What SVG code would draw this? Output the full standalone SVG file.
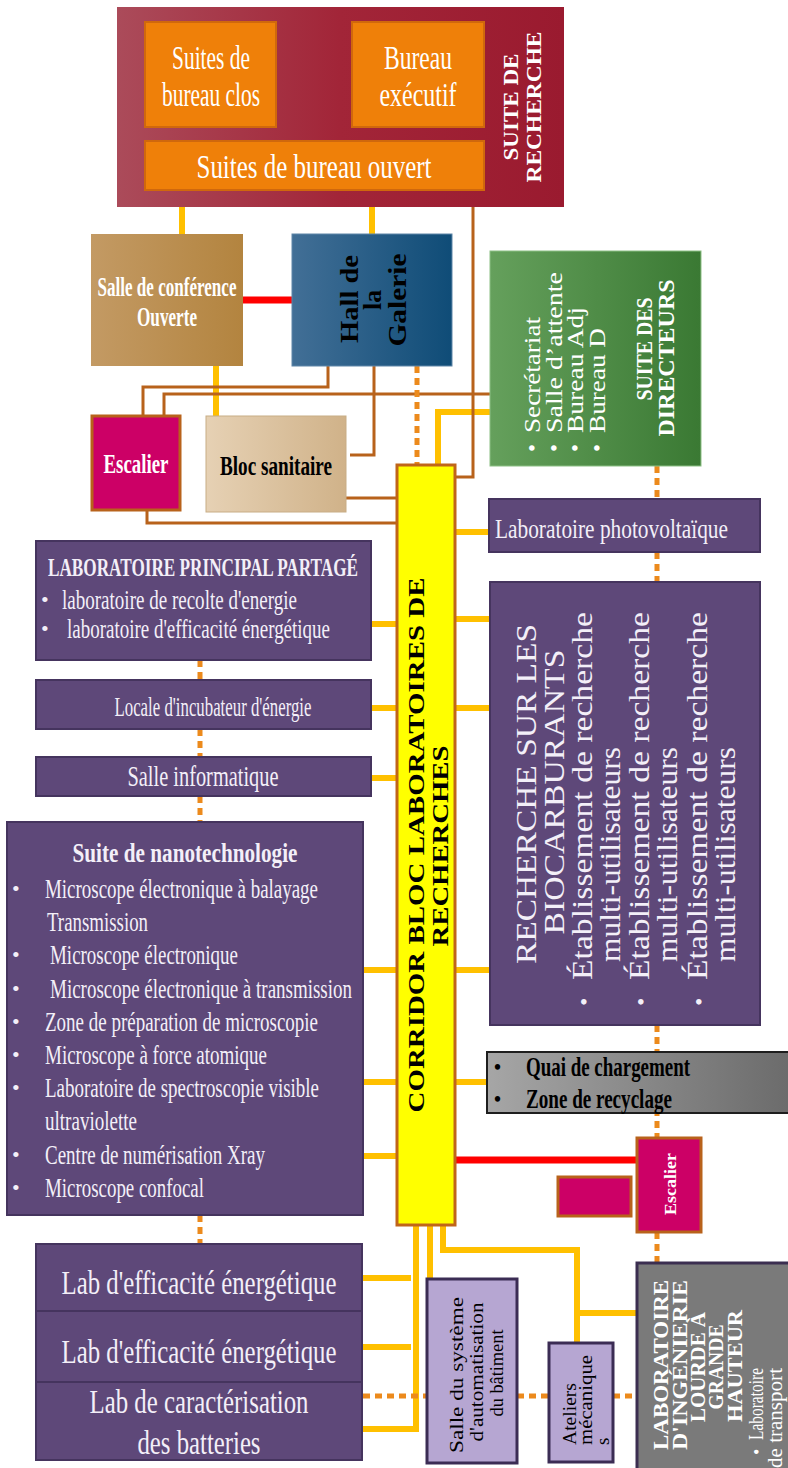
<svg xmlns="http://www.w3.org/2000/svg" width="788" height="1468" viewBox="0 0 788 1468">
  <defs>
    <linearGradient id="gMaroon" x1="0" y1="0" x2="1" y2="0">
      <stop offset="0" stop-color="#ab4b5a"/>
      <stop offset="0.5" stop-color="#a22538"/>
      <stop offset="1" stop-color="#9a1a2f"/>
    </linearGradient>
    <linearGradient id="gTan" x1="0" y1="0" x2="1" y2="0">
      <stop offset="0" stop-color="#c39a64"/>
      <stop offset="1" stop-color="#b3843f"/>
    </linearGradient>
    <linearGradient id="gBlue" x1="0" y1="0" x2="1" y2="0">
      <stop offset="0" stop-color="#426f96"/>
      <stop offset="1" stop-color="#0f4c77"/>
    </linearGradient>
    <linearGradient id="gSand" x1="0" y1="0" x2="1" y2="0">
      <stop offset="0" stop-color="#e6d1b4"/>
      <stop offset="1" stop-color="#d0b289"/>
    </linearGradient>
    <linearGradient id="gGreen" x1="0" y1="0" x2="1" y2="0">
      <stop offset="0" stop-color="#65a05c"/>
      <stop offset="1" stop-color="#3a7933"/>
    </linearGradient>
    <linearGradient id="gGray" x1="0" y1="0" x2="1" y2="0">
      <stop offset="0" stop-color="#a6a6a6"/>
      <stop offset="1" stop-color="#6a6a6a"/>
    </linearGradient>
    <style>
      .t { font-family: "Liberation Serif", "Times New Roman", serif; }
      .b { font-weight: bold; }
      .w { fill: #ffffff; }
      .lw { fill: #f3eff8; }
      .k { fill: #000000; }
      .y { stroke: #ffc000; stroke-width: 6; fill: none; }
      .br { stroke: #b8621b; stroke-width: 3; fill: none; }
      .dot { stroke: #ec8a1c; stroke-width: 5; stroke-dasharray: 7 5; fill: none; }
      .red { stroke: #ff0000; stroke-width: 7; fill: none; }
      .purple { fill: #5e4879; stroke: #45345e; stroke-width: 2; }
      .orange { fill: #ef8009; stroke: #d0680c; stroke-width: 2; }
      .mag { fill: #cc0066; stroke: #b8621b; stroke-width: 3; }
      .lilac { fill: #b6a6d2; stroke: #3b2c54; stroke-width: 3; }
    </style>
  </defs>

  <rect width="788" height="1468" fill="#ffffff"/>

  <!-- connectors -->
  <g id="connectors">
    <!-- yellow corridor links -->
    <line class="y" x1="182" y1="207" x2="182" y2="234"/>
    <line class="y" x1="372" y1="207" x2="372" y2="234"/>
    <line class="y" x1="216" y1="366" x2="216" y2="416"/>
    <polyline class="y" points="490,412 438,412 438,465"/>
    <line class="y" x1="455" y1="532" x2="490" y2="532"/>
    <line class="y" x1="455" y1="619" x2="490" y2="619"/>
    <line class="y" x1="455" y1="708" x2="490" y2="708"/>
    <line class="y" x1="455" y1="970" x2="490" y2="970"/>
    <line class="y" x1="455" y1="1082" x2="487" y2="1082"/>
    <line class="y" x1="371" y1="624" x2="397" y2="624"/>
    <line class="y" x1="371" y1="708" x2="397" y2="708"/>
    <line class="y" x1="371" y1="778" x2="397" y2="778"/>
    <line class="y" x1="363" y1="970" x2="397" y2="970"/>
    <line class="y" x1="363" y1="1082" x2="397" y2="1082"/>
    <line class="y" x1="363" y1="1156" x2="397" y2="1156"/>
    <line class="y" x1="363" y1="1278" x2="411" y2="1278"/>
    <line class="y" x1="363" y1="1347" x2="411" y2="1347"/>
    <polyline class="y" points="416,1225 416,1429 363,1429"/>
    <line class="y" x1="430" y1="1225" x2="430" y2="1279"/>
    <polyline class="y" points="443,1225 443,1250 577,1250 577,1343"/>
    <line class="y" x1="577" y1="1313" x2="637" y2="1313"/>

    <!-- brown service lines -->
    <polyline class="br" points="473,207 473,477 455,477"/>
    <polyline class="br" points="328,366 328,387 143,387 143,416"/>
    <polyline class="br" points="164,416 164,394 490,394"/>
    <polyline class="br" points="374,366 374,455 350,455"/>
    <line class="br" x1="346" y1="498" x2="397" y2="498"/>
    <polyline class="br" points="147,510 147,523 397,523"/>

    <!-- red links -->
    <line class="red" x1="243" y1="300" x2="292" y2="300"/>
    <line class="red" x1="455" y1="1160" x2="637" y2="1160"/>

    <!-- dotted links -->
    <line class="dot" x1="417" y1="366" x2="417" y2="465"/>
    <line class="dot" x1="657" y1="466" x2="657" y2="499"/>
    <line class="dot" x1="657" y1="552" x2="657" y2="582"/>
    <line class="dot" x1="657" y1="1025" x2="657" y2="1138"/>
    <line class="dot" x1="657" y1="1232" x2="657" y2="1263"/>
    <line class="dot" x1="200" y1="660" x2="200" y2="680"/>
    <line class="dot" x1="200" y1="729" x2="200" y2="757"/>
    <line class="dot" x1="200" y1="796" x2="200" y2="822"/>
    <line class="dot" x1="200" y1="1215" x2="200" y2="1244"/>
    <line class="dot" x1="363" y1="1396" x2="427" y2="1396"/>
    <line class="dot" x1="517" y1="1396" x2="549" y2="1396"/>
    <line class="dot" x1="613" y1="1396" x2="637" y2="1396"/>
  </g>

  <!-- research suite with its offices -->
  <g id="suite-recherche">
    <rect x="117" y="7" width="447" height="200" fill="url(#gMaroon)"/>
    <rect class="orange" x="145" y="22" width="131" height="105"/>
    <rect class="orange" x="352" y="22" width="132" height="105"/>
    <rect class="orange" x="145" y="141" width="339" height="49"/>
    <g class="t w" font-size="33" text-anchor="middle">
      <text x="211" y="69" textLength="78" lengthAdjust="spacingAndGlyphs">Suites de</text>
      <text x="211" y="106" textLength="98" lengthAdjust="spacingAndGlyphs">bureau clos</text>
      <text x="418" y="69" textLength="68" lengthAdjust="spacingAndGlyphs">Bureau</text>
      <text x="418" y="106" textLength="77" lengthAdjust="spacingAndGlyphs">exécutif</text>
      <text x="314" y="178" textLength="235" lengthAdjust="spacingAndGlyphs">Suites de bureau ouvert</text>
    </g>
    <g class="t b w" font-size="21" text-anchor="middle">
      <text transform="translate(518,107) rotate(-90)" textLength="107" lengthAdjust="spacingAndGlyphs">SUITE DE</text>
      <text transform="translate(541,107) rotate(-90)" textLength="151" lengthAdjust="spacingAndGlyphs">RECHERCHE</text>
    </g>
  </g>

  <g id="salle-conference">
    <rect x="91" y="234" width="152" height="132" fill="url(#gTan)"/>
    <g class="t b w" font-size="27" text-anchor="middle">
      <text x="167" y="296" textLength="139" lengthAdjust="spacingAndGlyphs">Salle de conférence</text>
      <text x="167" y="326" textLength="60" lengthAdjust="spacingAndGlyphs">Ouverte</text>
    </g>
  </g>

  <g id="hall-galerie">
    <rect x="292" y="234" width="160" height="132" fill="url(#gBlue)" stroke="#5f86a8" stroke-width="1"/>
    <g class="t b k" font-size="25" text-anchor="middle">
      <text transform="translate(358,299) rotate(-90)" textLength="88" lengthAdjust="spacingAndGlyphs">Hall de</text>
      <text transform="translate(381,300) rotate(-90)" textLength="20" lengthAdjust="spacingAndGlyphs">la</text>
      <text transform="translate(406,300) rotate(-90)" textLength="93" lengthAdjust="spacingAndGlyphs">Galerie</text>
    </g>
  </g>

  <g id="escalier-nord">
    <rect class="mag" x="92" y="416" width="88" height="94"/>
    <text class="t b w" font-size="27" x="136" y="473" text-anchor="middle" textLength="65" lengthAdjust="spacingAndGlyphs">Escalier</text>
  </g>

  <g id="bloc-sanitaire">
    <rect x="206" y="416" width="140" height="96" fill="url(#gSand)" stroke="#c8ad86" stroke-width="1"/>
    <text class="t b k" font-size="27" x="276" y="475" text-anchor="middle" textLength="112" lengthAdjust="spacingAndGlyphs">Bloc sanitaire</text>
  </g>

  <g id="suite-directeurs">
    <rect x="490" y="251" width="211" height="215" fill="url(#gGreen)" stroke="#8cbf84" stroke-width="1"/>
    <g class="t w" font-size="23">
      <text transform="translate(540,452) rotate(-90)">•</text>
      <text transform="translate(540,433) rotate(-90)" textLength="116" lengthAdjust="spacingAndGlyphs">Secrétariat</text>
      <text transform="translate(562,452) rotate(-90)">•</text>
      <text transform="translate(562,433) rotate(-90)" textLength="161" lengthAdjust="spacingAndGlyphs">Salle d’attente</text>
      <text transform="translate(583,452) rotate(-90)">•</text>
      <text transform="translate(583,433) rotate(-90)" textLength="126" lengthAdjust="spacingAndGlyphs">Bureau Adj</text>
      <text transform="translate(605,452) rotate(-90)">•</text>
      <text transform="translate(605,433) rotate(-90)" textLength="105" lengthAdjust="spacingAndGlyphs">Bureau D</text>
    </g>
    <g class="t b w" font-size="23" text-anchor="middle">
      <text transform="translate(652,349) rotate(-90)" textLength="103" lengthAdjust="spacingAndGlyphs">SUITE DES</text>
      <text transform="translate(674,358) rotate(-90)" textLength="157" lengthAdjust="spacingAndGlyphs">DIRECTEURS</text>
    </g>
  </g>

  <g id="corridor">
    <rect x="397" y="465" width="58" height="760" fill="#ffff00" stroke="#c0651a" stroke-width="3"/>
    <g class="t b k" font-size="24" text-anchor="middle">
      <text transform="translate(424,845) rotate(-90)" textLength="535" lengthAdjust="spacingAndGlyphs">CORRIDOR BLOC LABORATOIRES DE</text>
      <text transform="translate(448,846) rotate(-90)" textLength="201" lengthAdjust="spacingAndGlyphs">RECHERCHES</text>
    </g>
  </g>

  <g id="lab-photovoltaique">
    <rect class="purple" x="489" y="499" width="271" height="53"/>
    <text class="t lw" font-size="27" x="495" y="538" textLength="233" lengthAdjust="spacingAndGlyphs">Laboratoire photovoltaïque</text>
  </g>

  <g id="lab-principal">
    <rect class="purple" x="36" y="541" width="335" height="119"/>
    <text class="t b lw" font-size="26" x="203" y="576" text-anchor="middle" textLength="310" lengthAdjust="spacingAndGlyphs">LABORATOIRE PRINCIPAL PARTAGÉ</text>
    <g class="t lw" font-size="27">
      <text x="41" y="607" font-size="22">•</text>
      <text x="62" y="609" textLength="235" lengthAdjust="spacingAndGlyphs">laboratoire de recolte d'energie</text>
      <text x="41" y="636" font-size="22">•</text>
      <text x="67" y="638" textLength="263" lengthAdjust="spacingAndGlyphs">laboratoire d'efficacité énergétique</text>
    </g>
  </g>

  <g id="incubateur">
    <rect class="purple" x="36" y="680" width="335" height="49"/>
    <text class="t lw" font-size="28" x="213" y="716" text-anchor="middle" textLength="197" lengthAdjust="spacingAndGlyphs">Locale d'incubateur d'énergie</text>
  </g>

  <g id="salle-informatique">
    <rect class="purple" x="36" y="757" width="335" height="39"/>
    <text class="t lw" font-size="29" x="203" y="786" text-anchor="middle" textLength="151" lengthAdjust="spacingAndGlyphs">Salle informatique</text>
  </g>

  <g id="nanotechnologie">
    <rect class="purple" x="7" y="822" width="356" height="393"/>
    <text class="t b lw" font-size="27" x="185" y="862" text-anchor="middle" textLength="225" lengthAdjust="spacingAndGlyphs">Suite de nanotechnologie</text>
    <g class="t lw" font-size="22">
      <text x="12" y="896">•</text>
      <text x="12" y="962">•</text>
      <text x="12" y="996">•</text>
      <text x="12" y="1029">•</text>
      <text x="12" y="1062">•</text>
      <text x="12" y="1095">•</text>
      <text x="12" y="1162">•</text>
      <text x="12" y="1195">•</text>
    </g>
    <g class="t lw" font-size="27">
      <text x="45" y="898" textLength="273" lengthAdjust="spacingAndGlyphs">Microscope électronique à balayage</text>
      <text x="47" y="931" textLength="101" lengthAdjust="spacingAndGlyphs">Transmission</text>
      <text x="50" y="964" textLength="188" lengthAdjust="spacingAndGlyphs">Microscope électronique</text>
      <text x="50" y="998" textLength="302" lengthAdjust="spacingAndGlyphs">Microscope électronique à transmission</text>
      <text x="45" y="1031" textLength="273" lengthAdjust="spacingAndGlyphs">Zone de préparation de microscopie</text>
      <text x="45" y="1064" textLength="222" lengthAdjust="spacingAndGlyphs">Microscope à force atomique</text>
      <text x="45" y="1097" textLength="274" lengthAdjust="spacingAndGlyphs">Laboratoire de spectroscopie visible</text>
      <text x="45" y="1130" textLength="92" lengthAdjust="spacingAndGlyphs">ultraviolette</text>
      <text x="45" y="1164" textLength="220" lengthAdjust="spacingAndGlyphs">Centre de numérisation Xray</text>
      <text x="45" y="1197" textLength="159" lengthAdjust="spacingAndGlyphs">Microscope confocal</text>
    </g>
  </g>

  <g id="biocarburants">
    <rect class="purple" x="490" y="582" width="270" height="443"/>
    <g class="t lw" font-size="29" text-anchor="middle">
      <text transform="translate(536,794) rotate(-90)" textLength="340" lengthAdjust="spacingAndGlyphs">RECHERCHE SUR LES</text>
      <text transform="translate(564,792) rotate(-90)" textLength="285" lengthAdjust="spacingAndGlyphs">BIOCARBURANTS</text>
    </g>
    <g class="t lw" font-size="29">
      <text transform="translate(592,1006) rotate(-90)" font-size="24">•</text>
      <text transform="translate(592,980) rotate(-90)" textLength="368" lengthAdjust="spacingAndGlyphs">Établissement de recherche</text>
      <text transform="translate(620,962) rotate(-90)" textLength="215" lengthAdjust="spacingAndGlyphs">multi-utilisateurs</text>
      <text transform="translate(649,1006) rotate(-90)" font-size="24">•</text>
      <text transform="translate(649,980) rotate(-90)" textLength="368" lengthAdjust="spacingAndGlyphs">Établissement de recherche</text>
      <text transform="translate(677,962) rotate(-90)" textLength="215" lengthAdjust="spacingAndGlyphs">multi-utilisateurs</text>
      <text transform="translate(707,1006) rotate(-90)" font-size="24">•</text>
      <text transform="translate(707,980) rotate(-90)" textLength="368" lengthAdjust="spacingAndGlyphs">Établissement de recherche</text>
      <text transform="translate(735,962) rotate(-90)" textLength="215" lengthAdjust="spacingAndGlyphs">multi-utilisateurs</text>
    </g>
  </g>

  <g id="quai">
    <rect x="487" y="1052" width="310" height="61" fill="url(#gGray)" stroke="#1e1e1e" stroke-width="2"/>
    <g class="t b k" font-size="27">
      <text x="494" y="1074" font-size="20">•</text>
      <text x="526" y="1076" textLength="164" lengthAdjust="spacingAndGlyphs">Quai de chargement</text>
      <text x="494" y="1106" font-size="20">•</text>
      <text x="526" y="1108" textLength="146" lengthAdjust="spacingAndGlyphs">Zone de recyclage</text>
    </g>
  </g>

  <g id="escalier-sud">
    <rect class="mag" x="637" y="1138" width="64" height="94"/>
    <text class="t b w" font-size="16" transform="translate(676,1184) rotate(-90)" text-anchor="middle" textLength="62" lengthAdjust="spacingAndGlyphs">Escalier</text>
  </g>

  <g id="palier">
    <rect class="mag" x="558" y="1177" width="73" height="39"/>
  </g>

  <g id="labs-energie">
    <rect class="purple" x="36" y="1244" width="326" height="67"/>
    <rect class="purple" x="36" y="1311" width="326" height="71"/>
    <rect class="purple" x="36" y="1382" width="326" height="78"/>
    <g class="t lw" font-size="33" text-anchor="middle">
      <text x="199" y="1294" textLength="275" lengthAdjust="spacingAndGlyphs">Lab d'efficacité énergétique</text>
      <text x="199" y="1363" textLength="275" lengthAdjust="spacingAndGlyphs">Lab d'efficacité énergétique</text>
      <text x="199" y="1413" textLength="219" lengthAdjust="spacingAndGlyphs">Lab de caractérisation</text>
      <text x="199" y="1454" textLength="123" lengthAdjust="spacingAndGlyphs">des batteries</text>
    </g>
  </g>

  <g id="automatisation">
    <rect class="lilac" x="427" y="1279" width="90" height="184"/>
    <g class="t k" font-size="19" text-anchor="middle">
      <text transform="translate(463,1375) rotate(-90)" textLength="156" lengthAdjust="spacingAndGlyphs">Salle du système</text>
      <text transform="translate(483,1372) rotate(-90)" textLength="139" lengthAdjust="spacingAndGlyphs">d'automatisation</text>
      <text transform="translate(503,1373) rotate(-90)" textLength="87" lengthAdjust="spacingAndGlyphs">du bâtiment</text>
    </g>
  </g>

  <g id="ateliers">
    <rect class="lilac" x="549" y="1343" width="64" height="119"/>
    <g class="t k" font-size="19">
      <text transform="translate(576,1445) rotate(-90)" textLength="62" lengthAdjust="spacingAndGlyphs">Ateliers</text>
      <text transform="translate(592,1445) rotate(-90)" textLength="90" lengthAdjust="spacingAndGlyphs">mécanique</text>
      <text transform="translate(609,1445) rotate(-90)">s</text>
    </g>
  </g>

  <g id="lab-ingenierie">
    <rect x="637" y="1263" width="160" height="215" fill="#7a7a7a" stroke="#3b2e50" stroke-width="3"/>
    <g class="t b w" font-size="20" text-anchor="middle">
      <text transform="translate(668,1365) rotate(-90)" textLength="170" lengthAdjust="spacingAndGlyphs">LABORATOIRE</text>
      <text transform="translate(687,1365) rotate(-90)" textLength="170" lengthAdjust="spacingAndGlyphs">D'INGÉNIERIE</text>
      <text transform="translate(705,1367) rotate(-90)" textLength="110" lengthAdjust="spacingAndGlyphs">LOURDE À</text>
      <text transform="translate(723,1367) rotate(-90)" textLength="85" lengthAdjust="spacingAndGlyphs">GRANDE</text>
      <text transform="translate(742,1366) rotate(-90)" textLength="112" lengthAdjust="spacingAndGlyphs">HAUTEUR</text>
    </g>
    <g class="t w" font-size="20">
      <text transform="translate(763,1455) rotate(-90)" font-size="18">•</text>
      <text transform="translate(763,1440) rotate(-90)" textLength="72" lengthAdjust="spacingAndGlyphs">Laboratoire</text>
      <text transform="translate(782,1468) rotate(-90)" textLength="100" lengthAdjust="spacingAndGlyphs">de transport</text>
    </g>
  </g>
</svg>
